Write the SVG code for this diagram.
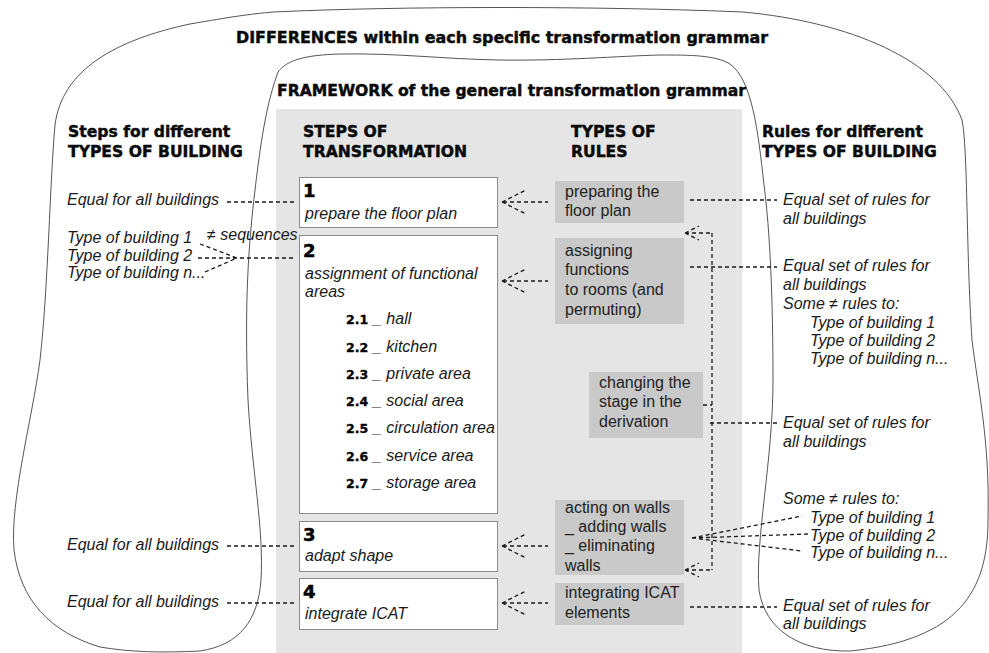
<svg xmlns="http://www.w3.org/2000/svg" xmlns:xlink="http://www.w3.org/1999/xlink" width="989" height="653" viewBox="0 0 989 653">
<style>
.hd{font-family:"DejaVu Sans",sans-serif;font-weight:bold;font-size:15.6px;fill:#0a0a0a;stroke:#0a0a0a;stroke-width:0.45}
.lbl{font-family:"Liberation Sans",Arial,sans-serif;font-style:italic;font-size:16px;fill:#1a1a1a}
.rt{font-family:"Liberation Sans",Arial,sans-serif;font-size:16px;fill:#222}
.num{font-family:"DejaVu Sans",sans-serif;font-weight:bold;font-size:18px;fill:#000;stroke:#000;stroke-width:0.5}
.sub{font-family:"DejaVu Sans",sans-serif;font-weight:bold;font-size:12.5px;fill:#000;stroke:#000;stroke-width:0.35}
.step{fill:#fff;stroke:#8c8c8c;stroke-width:1}
.rbox{fill:#c9c9c9}
.dash{fill:none;stroke:#1a1a1a;stroke-width:1.3;stroke-dasharray:4 3}
.blob{fill:none;stroke:#555;stroke-width:1}
</style>
<defs>
<g id="arr"><path class="dash" d="M1 0 L46 0 M0 0 L24 -12 M0 0 L24 12"/></g>
<g id="arrs"><path class="dash" d="M0 0 L27 0 M0 0 L14 -7 M0 0 L14 7"/></g>
</defs>
<rect width="989" height="653" fill="#fff"/>
<path class="blob" d="M273 12 C400 6 600 6 743 12 C850 22 940 60 962 120 C968 150 966 250 972 340 C978 390 990 440 988 520 C988 590 960 640 850 651 C800 652 765 630 759 590 C755 540 773 460 773 380 C773 300 770 230 764 185 C758 130 752 80 730 64 C715 55 690 55 660 55 C620 56 560 61 500 60 C440 59 400 53 340 54 C305 55 287 60 278 72 C268 100 262 130 255 190 C249 240 244 300 248 400 C252 470 264 530 261 580 C258 620 240 645 200 651 C160 653 130 652 100 647 C50 632 20 600 14 550 C10 500 32 420 40 360 C48 290 50 180 55 125 C62 70 115 40 190 24 C230 17 250 14 273 12 Z"/>
<rect x="276" y="109" width="466" height="544" fill="#e5e5e5"/>
<g id="headings">
<text class="hd" x="236" y="43" textLength="532" lengthAdjust="spacingAndGlyphs">DIFFERENCES within each specific transformation grammar</text>
<text class="hd" x="277" y="96" textLength="469" lengthAdjust="spacingAndGlyphs">FRAMEWORK of the general transformation grammar</text>
<text class="hd" x="68" y="137">Steps for different</text>
<text class="hd" x="68" y="156.5">TYPES OF BUILDING</text>
<text class="hd" x="303" y="137">STEPS OF</text>
<text class="hd" x="303" y="156.5">TRANSFORMATION</text>
<text class="hd" x="571" y="137">TYPES OF</text>
<text class="hd" x="571" y="156.5">RULES</text>
<text class="hd" x="762" y="137">Rules for different</text>
<text class="hd" x="762" y="156.5">TYPES OF BUILDING</text>
</g>
<g id="step1">
<rect class="step" x="299.5" y="177.5" width="198" height="50"/>
<text class="num" x="303" y="197">1</text>
<text class="lbl" x="305" y="219">prepare the floor plan</text>
</g>
<g id="step2">
<rect class="step" x="299.5" y="235.5" width="198" height="278"/>
<text class="num" x="303" y="257">2</text>
<text class="lbl" x="305" y="279">assignment of functional</text>
<text class="lbl" x="305" y="297">areas</text>
<text class="sub" x="346" y="324">2.1</text><text class="lbl" x="373" y="324">_ hall</text>
<text class="sub" x="346" y="352">2.2</text><text class="lbl" x="373" y="352">_ kitchen</text>
<text class="sub" x="346" y="379">2.3</text><text class="lbl" x="373" y="379">_ private area</text>
<text class="sub" x="346" y="406">2.4</text><text class="lbl" x="373" y="406">_ social area</text>
<text class="sub" x="346" y="433">2.5</text><text class="lbl" x="373" y="433">_ circulation area</text>
<text class="sub" x="346" y="461">2.6</text><text class="lbl" x="373" y="461">_ service area</text>
<text class="sub" x="346" y="488">2.7</text><text class="lbl" x="373" y="488">_ storage area</text>
</g>
<g id="step3">
<rect class="step" x="299.5" y="521.5" width="198" height="50"/>
<text class="num" x="303" y="541">3</text>
<text class="lbl" x="305" y="561">adapt shape</text>
</g>
<g id="step4">
<rect class="step" x="299.5" y="578.5" width="198" height="51"/>
<text class="num" x="303" y="598">4</text>
<text class="lbl" x="305" y="619">integrate ICAT</text>
</g>
<g id="rule1">
<rect class="rbox" x="555" y="181" width="129" height="42"/>
<text class="rt" x="565" y="197">preparing the</text>
<text class="rt" x="565" y="216">floor plan</text>
</g>
<g id="rule2">
<rect class="rbox" x="555" y="238" width="129" height="86"/>
<text class="rt" x="565" y="256">assigning</text>
<text class="rt" x="565" y="275">functions</text>
<text class="rt" x="565" y="295">to rooms (and</text>
<text class="rt" x="565" y="315">permuting)</text>
</g>
<g id="rule3">
<rect class="rbox" x="589" y="372" width="114" height="66"/>
<text class="rt" x="599" y="388">changing the</text>
<text class="rt" x="599" y="407">stage in the</text>
<text class="rt" x="599" y="427">derivation</text>
</g>
<g id="rule4">
<rect class="rbox" x="555" y="500" width="129" height="75"/>
<text class="rt" x="565" y="513">acting on walls</text>
<text class="rt" x="565" y="532">_ adding walls</text>
<text class="rt" x="565" y="551">_ eliminating</text>
<text class="rt" x="565" y="571">walls</text>
</g>
<g id="rule5">
<rect class="rbox" x="555" y="583" width="129" height="42"/>
<text class="rt" x="565" y="598">integrating ICAT</text>
<text class="rt" x="565" y="618">elements</text>
</g>
<g id="left-labels">
<text class="lbl" x="67" y="205">Equal for all buildings</text>
<text class="lbl" x="67" y="243">Type of building 1</text>
<text class="lbl" x="67" y="261">Type of building 2</text>
<text class="lbl" x="67" y="278">Type of building n...</text>
<text class="lbl" x="207" y="240">≠ sequences</text>
<text class="lbl" x="67" y="550">Equal for all buildings</text>
<text class="lbl" x="67" y="607">Equal for all buildings</text>
</g>
<g id="right-labels">
<text class="lbl" x="783" y="205">Equal set of rules for</text>
<text class="lbl" x="783" y="224">all buildings</text>
<text class="lbl" x="783" y="271">Equal set of rules for</text>
<text class="lbl" x="783" y="290">all buildings</text>
<text class="lbl" x="783" y="309">Some ≠ rules to:</text>
<text class="lbl" x="810" y="328">Type of building 1</text>
<text class="lbl" x="810" y="346">Type of building 2</text>
<text class="lbl" x="810" y="364">Type of building n...</text>
<text class="lbl" x="783" y="428">Equal set of rules for</text>
<text class="lbl" x="783" y="447">all buildings</text>
<text class="lbl" x="783" y="504">Some ≠ rules to:</text>
<text class="lbl" x="810" y="523">Type of building 1</text>
<text class="lbl" x="810" y="541">Type of building 2</text>
<text class="lbl" x="810" y="558">Type of building n...</text>
<text class="lbl" x="783" y="611">Equal set of rules for</text>
<text class="lbl" x="783" y="629">all buildings</text>
</g>
<g id="connectors">
<use xlink:href="#arr" x="502" y="202"/>
<use xlink:href="#arr" x="502" y="281"/>
<use xlink:href="#arr" x="502" y="546"/>
<use xlink:href="#arr" x="502" y="603"/>
<use xlink:href="#arrs" x="685" y="233"/>
<use xlink:href="#arrs" x="685" y="570"/>
<path class="dash" d="M712 233 L712 570 M703 405 L712 405 M710 423 L777 423"/>
<path class="dash" d="M690 200 L777 200 M690 267 L777 267 M690 607 L777 607"/>
<path class="dash" d="M692 538 L802 516 M692 538 L808 534 M692 538 L802 551"/>
<path class="dash" d="M227 202 L296 202 M227 546 L296 546 M227 603 L296 603"/>
<path class="dash" d="M198 258 L296 258 M200 244 L237 258 M205 272 L237 258"/>
</g>
</svg>
